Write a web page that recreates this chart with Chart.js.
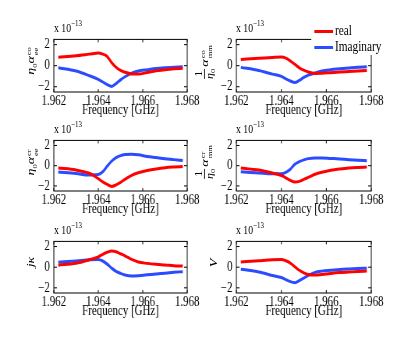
<!DOCTYPE html>
<html>
<head>
<meta charset="utf-8">
<script src="https://cdn.jsdelivr.net/npm/chart.js@4.4.1/dist/chart.umd.min.js"></script>
<style>
  html, body { margin:0; padding:0; background:#fff; overflow:hidden; }
  #outer { position:relative; width:415px; height:337px; overflow:hidden; background:#fff; }
  #wrap { position:absolute; left:0; top:0; height:337px; transform-origin:0 0; background:#fff; }
  canvas { position:absolute; }
  .ylab { position:absolute; font-family:'Liberation Serif', serif; font-size:14px; color:#000;
          transform: translate(-50%,-50%) rotate(-90deg); white-space:nowrap; line-height:1; }
  .ylab i { font-style:italic; }
  .ylab sub { font-size:8.5px; vertical-align:-3px; }
  .ss { display:inline-flex; flex-direction:column; vertical-align:middle; font-size:8.5px; line-height:8.5px; margin-left:1px; }
  .frac { display:inline-flex; flex-direction:column; vertical-align:middle; text-align:center; font-size:12px; line-height:12px; margin-right:2px; }
  .frac .num { border-bottom:1px solid #000; padding:0 1px; }
  .exp { position:absolute; font-family:'Liberation Serif', serif; font-size:12.5px; color:#000; line-height:1; white-space:nowrap; }
  .exp sup { font-size:9px; position:relative; top:-6px; vertical-align:baseline; line-height:0; }
  #legend { position:absolute; top:22px; height:33px; background:#fff; }
  .lgline { position:absolute; height:2.6px; }
  .lgtext { position:absolute; font-family:'Liberation Serif', serif; font-size:14.5px; line-height:1; color:#000; white-space:nowrap; }
</style>
</head>
<body>
<div id="outer"><div id="wrap"></div></div>
<script>
// ---- data (values in units of 1e-13) ----
const freq        = [1.9622, 1.9630, 1.9636, 1.9640, 1.9642, 1.9644, 1.9646, 1.9648, 1.9650, 1.9652, 1.9655, 1.9658, 1.9662, 1.9666, 1.9670, 1.9674, 1.9678];
const eeCoReal    = [0.80, 0.95, 1.10, 1.20, 1.10, 0.88, 0.30, -0.15, -0.45, -0.62, -0.78, -0.80, -0.65, -0.48, -0.38, -0.30, -0.24];
const eeCoImag    = [-0.20, -0.50, -0.95, -1.30, -1.55, -1.80, -1.97, -1.70, -1.35, -1.05, -0.70, -0.50, -0.38, -0.27, -0.20, -0.15, -0.10];
const mmCoReal    = [0.60, 0.70, 0.78, 0.82, 0.72, 0.45, 0.13, -0.20, -0.42, -0.60, -0.73, -0.72, -0.66, -0.60, -0.55, -0.50, -0.45];
const mmCoImag    = [-0.16, -0.45, -0.80, -1.02, -1.25, -1.45, -1.60, -1.40, -1.12, -0.90, -0.70, -0.50, -0.38, -0.30, -0.22, -0.15, -0.10];
const eeCrReal    = [-0.23, -0.43, -0.75, -1.28, -1.60, -1.85, -2.05, -1.90, -1.65, -1.35, -0.95, -0.70, -0.48, -0.32, -0.20, -0.13, -0.08];
const eeCrImag    = [-0.62, -0.77, -0.92, -0.88, -0.60, -0.05, 0.45, 0.80, 1.00, 1.10, 1.14, 1.08, 0.92, 0.80, 0.68, 0.60, 0.51];
const mmCrReal    = [-0.23, -0.43, -0.72, -0.97, -1.20, -1.45, -1.62, -1.55, -1.35, -1.15, -0.85, -0.65, -0.45, -0.32, -0.22, -0.17, -0.14];
const mmCrImag    = [-0.60, -0.72, -0.80, -0.80, -0.65, -0.35, 0.15, 0.40, 0.58, 0.70, 0.77, 0.77, 0.72, 0.67, 0.60, 0.55, 0.49];
const kappaReal   = [0.20, 0.38, 0.72, 1.00, 1.25, 1.45, 1.56, 1.50, 1.30, 1.10, 0.75, 0.50, 0.37, 0.28, 0.22, 0.15, 0.11];
const kappaImag   = [0.48, 0.60, 0.72, 0.75, 0.60, 0.30, -0.09, -0.40, -0.60, -0.75, -0.85, -0.82, -0.74, -0.65, -0.58, -0.50, -0.43];
const vReal       = [0.50, 0.63, 0.72, 0.74, 0.62, 0.40, 0.05, -0.30, -0.55, -0.70, -0.76, -0.70, -0.60, -0.52, -0.47, -0.42, -0.38];
const vImag       = [-0.19, -0.46, -0.80, -1.00, -1.20, -1.40, -1.50, -1.30, -1.05, -0.80, -0.50, -0.38, -0.30, -0.22, -0.17, -0.13, -0.10];
const xTicks      = [1.962, 1.964, 1.966, 1.968];
const yTicks      = [-2, 0, 2];
const seriesNames = ['real', 'Imaginary'];
const xTitle      = 'Frequency [GHz]';

const RED = '#ff0000', BLUE = '#2a4bff';
const FONT = "'Liberation Serif', serif";
const S = 0.78;   // horizontal squeeze of the original figure

const panels = [
  { L:54,  T:31.5, R:187, B:91,  re:eeCoReal,  im:eeCoImag,  lab:'<i>η</i><sub>0</sub><i>α</i><span class="ss"><span>co</span><span>ee</span></span>', lx:32, ly:61 },
  { L:236, T:31.5, R:371, B:91,  re:mmCoReal,  im:mmCoImag,  lab:'<span class="frac"><span class="num">1</span><span><i>η</i><sub>0</sub></span></span><i>α</i><span class="ss"><span>co</span><span>mm</span></span>', lx:206, ly:62 },
  { L:54,  T:133, R:187, B:191, re:eeCrReal,  im:eeCrImag,  lab:'<i>η</i><sub>0</sub><i>α</i><span class="ss"><span>cr</span><span>ee</span></span>', lx:32, ly:162 },
  { L:236, T:133, R:371, B:191, re:mmCrReal,  im:mmCrImag,  lab:'<span class="frac"><span class="num">1</span><span><i>η</i><sub>0</sub></span></span><i>α</i><span class="ss"><span>cr</span><span>mm</span></span>', lx:206, ly:162 },
  { L:54,  T:234, R:187, B:293, re:kappaReal, im:kappaImag, lab:'<i>jκ</i>', lx:31, ly:262 },
  { L:236, T:234, R:371, B:293, re:vReal,     im:vImag,     lab:'<i>V</i>', lx:214, ly:263 },
];

const boxPlugin = {
  id: 'box',
  afterDatasetsDraw(chart) {
    const { ctx, chartArea: a, scales: { x, y } } = chart;
    ctx.save();
    ctx.strokeStyle = '#000';
    ctx.lineWidth = 1;
    ctx.strokeRect(a.left, a.top, a.right - a.left, a.bottom - a.top);
    ctx.beginPath();
    xTicks.forEach(v => {
      const px = x.getPixelForValue(v);
      ctx.moveTo(px, a.bottom); ctx.lineTo(px, a.bottom - 3);
      ctx.moveTo(px, a.top); ctx.lineTo(px, a.top + 3);
    });
    yTicks.forEach(v => {
      const py = y.getPixelForValue(v);
      ctx.moveTo(a.left, py); ctx.lineTo(a.left + 4, py);
      ctx.moveTo(a.right, py); ctx.lineTo(a.right - 4, py);
    });
    ctx.stroke();
    ctx.restore();
  }
};

const wrap = document.getElementById('wrap');
wrap.style.width = (415 / S) + 'px';
wrap.style.transform = 'scaleX(' + S + ')';
const PADL = 32, PADT = 6, PADR = 18, PADB = 27;

panels.forEach(p => {
  const cv = document.createElement('canvas');
  const w = Math.round((p.R - p.L) / S + PADL + PADR);
  const h = Math.round(p.B - p.T + PADT + PADB);
  cv.width = w; cv.height = h;
  cv.style.width = w + 'px'; cv.style.height = h + 'px';
  cv.style.left = (p.L / S - PADL) + 'px';
  cv.style.top = (p.T - PADT) + 'px';
  wrap.appendChild(cv);

  new Chart(cv.getContext('2d'), {
    type: 'line',
    data: {
      datasets: [
        { label: seriesNames[0], data: freq.map((f, i) => ({ x: f, y: p.re[i] })), borderColor: RED },
        { label: seriesNames[1], data: freq.map((f, i) => ({ x: f, y: p.im[i] })), borderColor: BLUE },
      ]
    },
    options: {
      responsive: false, animation: false, devicePixelRatio: 1,
      layout: { padding: { left: 0, top: PADT, right: PADR, bottom: 0 } },
      plugins: { legend: { display: false }, tooltip: { enabled: false } },
      elements: {
        point: { radius: 0 },
        line: { borderWidth: 3, cubicInterpolationMode: 'monotone', fill: false }
      },
      scales: {
        x: {
          type: 'linear', min: 1.962, max: 1.968,
          grid: { display: false, drawTicks: false }, border: { display: false },
          afterBuildTicks: s => { s.ticks = xTicks.map(v => ({ value: v })); },
          ticks: { font: { family: FONT, size: 14 }, color: '#000', padding: 1, maxRotation: 0, autoSkip: false,
                   callback: v => Number(v).toFixed(3) },
          title: { display: true, text: xTitle, font: { family: FONT, size: 14 }, color: '#000', padding: 0 },
          afterFit: s => { s.height = PADB; }
        },
        y: {
          min: -2.5, max: 2.5,
          grid: { display: false, drawTicks: false }, border: { display: false },
          afterBuildTicks: s => { s.ticks = yTicks.map(v => ({ value: v })); },
          ticks: { font: { family: FONT, size: 14 }, color: '#000', padding: 5, autoSkip: false,
                   callback: v => v < 0 ? '\u2212' + Math.abs(v) : String(v) },
          afterFit: s => { s.width = PADL; }
        }
      }
    },
    plugins: [boxPlugin]
  });

  const ex = document.createElement('div');
  ex.className = 'exp';
  ex.style.left = (p.L / S) + 'px';
  ex.style.top = (p.T - 10) + 'px';
  ex.innerHTML = 'x 10<sup>\u221213</sup>';
  wrap.appendChild(ex);

  const yl = document.createElement('div');
  yl.className = 'ylab';
  yl.style.left = (p.lx / S) + 'px';
  yl.style.top = p.ly + 'px';
  yl.innerHTML = p.lab;
  wrap.appendChild(yl);
});

// legend (on the top-right panel)
const lg = document.createElement('div');
lg.id = 'legend';
lg.style.left = (311 / S) + 'px';
lg.style.width = (76 / S) + 'px';
const lgLineL = (314 - 311) / S, lgLineW = 19 / S, lgTextL = (335 - 311) / S;
lg.innerHTML =
  '<div class="lgline" style="left:' + lgLineL + 'px;width:' + lgLineW + 'px;top:8px;background:' + RED + '"></div>' +
  '<div class="lgtext" style="left:' + lgTextL + 'px;top:1px">' + seriesNames[0] + '</div>' +
  '<div class="lgline" style="left:' + lgLineL + 'px;width:' + lgLineW + 'px;top:24px;background:' + BLUE + '"></div>' +
  '<div class="lgtext" style="left:' + lgTextL + 'px;top:17px">' + seriesNames[1] + '</div>';
wrap.appendChild(lg);
</script>
</body>
</html>
